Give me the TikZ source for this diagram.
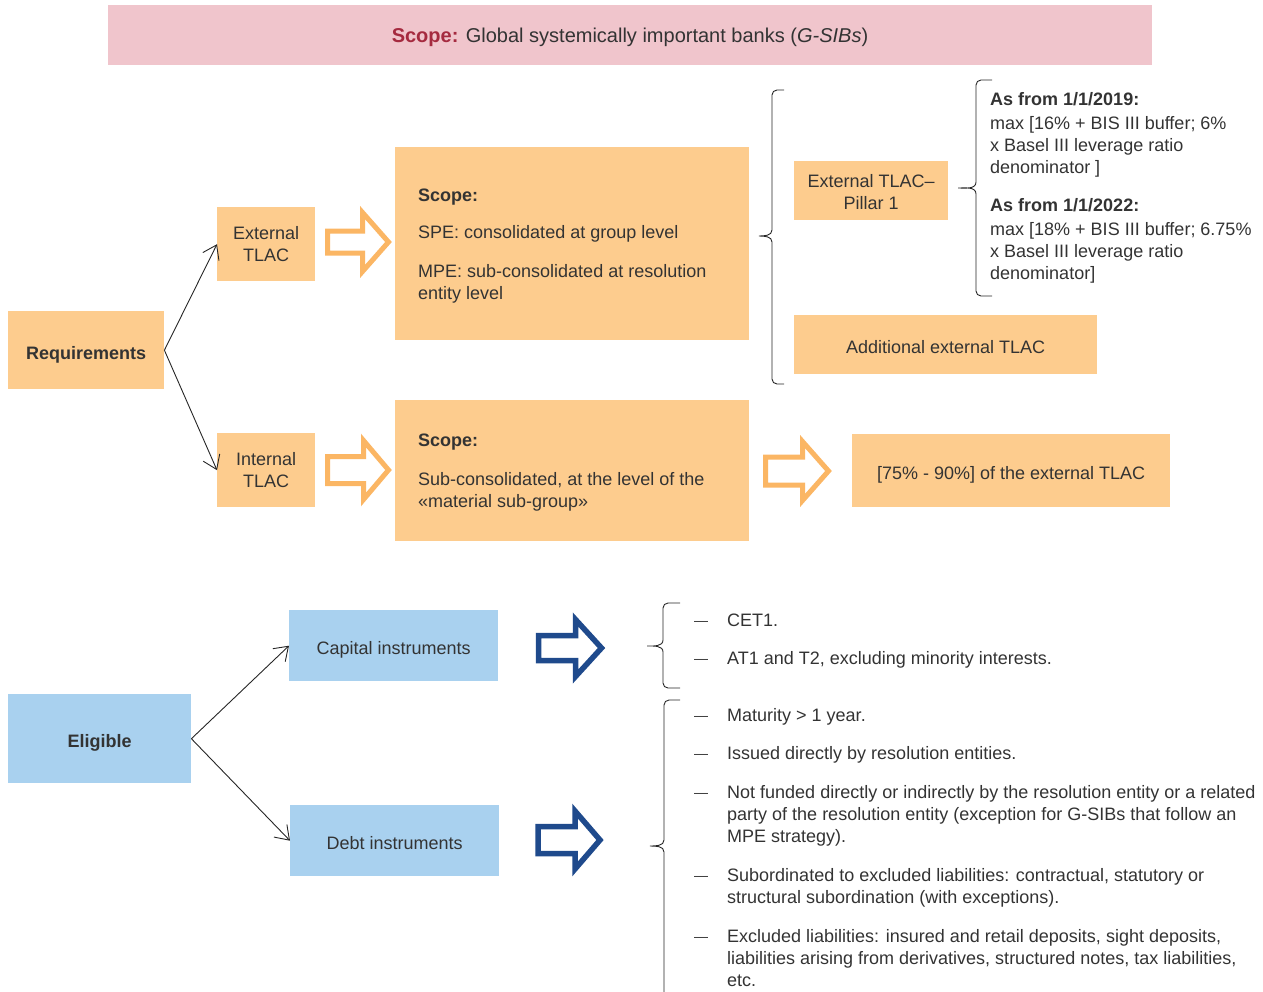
\documentclass[tikz,border=0pt]{standalone}
\usepackage{fontspec}
\setmainfont{Liberation Sans}
\usetikzlibrary{arrows.meta}
\definecolor{obox}{HTML}{FDCC8E}
\definecolor{oarrow}{HTML}{FBB664}
\definecolor{pinkbg}{HTML}{F0C5CC}
\definecolor{scopered}{HTML}{A52A3F}
\definecolor{bbox}{HTML}{A9D1EF}
\definecolor{barrow}{HTML}{1F4A8C}
\definecolor{txtc}{HTML}{333333}
\newcommand\harrow[7]{\draw[#1,shift={(#2,#3)}] (0,-#4) -- (#5,-#4) -- (#5,-#6) -- (#7,0) -- (#5,#6) -- (#5,#4) -- (0,#4) -- cycle;}
\newcommand\mybrace[6]{\draw[bracestyle] (#1,#4) -- (#2+5,#4) to[out=180,in=90] (#2,#4+5) -- (#2,#5-6) to[out=-90,in=0] (#3,#5) to[out=0,in=90] (#2,#5+6) -- (#2,#6-5) to[out=-90,in=180] (#2+5,#6) -- (#1,#6);}
\newcommand\dsh{{\fontsize{14}{22}\selectfont\raisebox{0.5pt}{—}}}
\begin{document}
\begin{tikzpicture}[x=1pt,y=-1pt,
  every node/.style={text=txtc,font=\fontsize{18}{22}\selectfont,inner sep=0pt},
  ofill/.style={fill=obox,draw=none,anchor=north west,align=center},
  bfill/.style={fill=bbox,draw=none,anchor=north west,align=center},
  oneline/.style={text height=18.5pt,text depth=0pt},
  txt/.style={anchor=north west,align=left},
  conn/.style={draw=black!85,line width=0.9pt,-{Straight Barb[length=13pt,width=18pt]}},
  oarr/.style={draw=oarrow,line width=5pt,fill=white,line join=miter},
  barr/.style={draw=barrow,line width=5.5pt,fill=white,line join=miter},
  bracestyle/.style={draw=black!85,line width=0.9pt}]
\useasboundingbox (0,0) rectangle (1263,991);
\clip (0,0) rectangle (1263,991);
% banner
\node[fill=pinkbg,anchor=north west,minimum width=1044pt,minimum height=60pt] (banner) at (108,5) {};
\node[font=\fontsize{20}{24}\selectfont,text height=14.3pt,text depth=0pt] (bannertxt) at (630,35) {{\color{scopered}\bfseries Scope:} Global systemically important banks (\textit{G-SIBs})};
% requirements part
\node[ofill,oneline,minimum width=156pt,minimum height=78pt] (req) at (8,311) {\bfseries Requirements};
\node[ofill,minimum width=98pt,minimum height=74pt] (ext) at (217,207) {External\\TLAC};
\node[ofill,minimum width=98pt,minimum height=74pt] (int) at (217,433) {Internal\\TLAC};
\draw[conn] (req.east) -- (ext.west);
\draw[conn] (req.east) -- (int.west);
\harrow{oarr}{327.5}{242}{11}{35}{29.5}{61}
\harrow{oarr}{327.5}{470}{13.5}{36}{29.5}{61}
\node[ofill,minimum width=354pt,minimum height=193pt] (scope1) at (395,147) {};
\node[txt] (s1a) at (418,187) {\rule{0pt}{14pt}\bfseries Scope:};
\node[txt] (s1b) at (418,224) {\rule{0pt}{14pt}SPE: consolidated at group level};
\node[txt] (s1c) at (418,263) {\rule{0pt}{14pt}MPE: sub-consolidated at resolution\\entity level};
\node[ofill,minimum width=354pt,minimum height=141pt] (scope2) at (395,400) {};
\node[txt] (s2a) at (418,432) {\rule{0pt}{14pt}\bfseries Scope:};
\node[txt] (s2b) at (418,471) {\rule{0pt}{14pt}Sub-consolidated, at the level of the\\«material sub-group»};
\mybrace{784}{772}{759}{90}{236}{384}
\node[ofill,minimum width=154pt,minimum height=59pt] (pillar) at (794,161) {\rule{0pt}{15pt}External TLAC–\\Pillar 1};
\mybrace{992}{976}{958}{80}{188}{296}
\node[txt] (y19) at (990,91) {\rule{0pt}{14pt}\textbf{As from 1/1/2019:}\\[2pt]max [16\% + BIS III buffer; 6\%\\x Basel III leverage ratio\\denominator ]};
\node[txt] (y22) at (990,197) {\rule{0pt}{14pt}\textbf{As from 1/1/2022:}\\[2pt]max [18\% + BIS III buffer; 6.75\%\\x Basel III leverage ratio\\denominator]};
\node[ofill,oneline,minimum width=303pt,minimum height=59pt] (addl) at (794,315) {Additional external TLAC};
\harrow{oarr}{765.5}{471}{14}{37}{29.5}{63}
\node[ofill,oneline,minimum width=318pt,minimum height=73pt] (pct) at (852,434) {[75\% - 90\%] of the external TLAC};
% eligible part
\node[bfill,oneline,minimum width=183pt,minimum height=89pt] (elig) at (8,694) {\bfseries Eligible};
\node[bfill,oneline,minimum width=209pt,minimum height=71pt] (cap) at (289,610) {Capital instruments};
\node[bfill,oneline,minimum width=209pt,minimum height=71pt] (debt) at (290,805) {Debt instruments};
\draw[conn] (elig.east) -- (cap.west);
\draw[conn] (elig.east) -- (debt.west);
\harrow{barr}{538.5}{648}{12.5}{37}{28.5}{63}
\harrow{barr}{538}{840}{13.5}{37}{29}{62}
\mybrace{680}{663}{647}{603}{646}{688}
\mybrace{680}{664}{650}{700}{846}{1100}
\node[txt] (d1) at (694,612) {\rule{0pt}{14pt}\dsh};
\node[txt] (t1) at (727,612) {\rule{0pt}{14pt}CET1.};
\node[txt] (d2) at (694,650) {\rule{0pt}{14pt}\dsh};
\node[txt] (t2) at (727,650) {\rule{0pt}{14pt}AT1 and T2, excluding minority interests.};
\node[txt] (d3) at (694,707) {\rule{0pt}{14pt}\dsh};
\node[txt] (t3) at (727,707) {\rule{0pt}{14pt}Maturity > 1 year.};
\node[txt] (d4) at (694,745) {\rule{0pt}{14pt}\dsh};
\node[txt] (t4) at (727,745) {\rule{0pt}{14pt}Issued directly by resolution entities.};
\node[txt] (d5) at (694,784) {\rule{0pt}{14pt}\dsh};
\node[txt] (t5) at (727,784) {\rule{0pt}{14pt}Not funded directly or indirectly by the resolution entity or a related\\party of the resolution entity (exception for G-SIBs that follow an\\MPE strategy).};
\node[txt] (d6) at (694,867) {\rule{0pt}{14pt}\dsh};
\node[txt] (t6) at (727,867) {\rule{0pt}{14pt}Subordinated to excluded liabilities: contractual, statutory or\\structural subordination (with exceptions).};
\node[txt] (d7) at (694,928) {\rule{0pt}{14pt}\dsh};
\node[txt] (t7) at (727,928) {\rule{0pt}{14pt}Excluded liabilities: insured and retail deposits, sight deposits,\\liabilities arising from derivatives, structured notes, tax liabilities,\\etc.};
\end{tikzpicture}
\end{document}
